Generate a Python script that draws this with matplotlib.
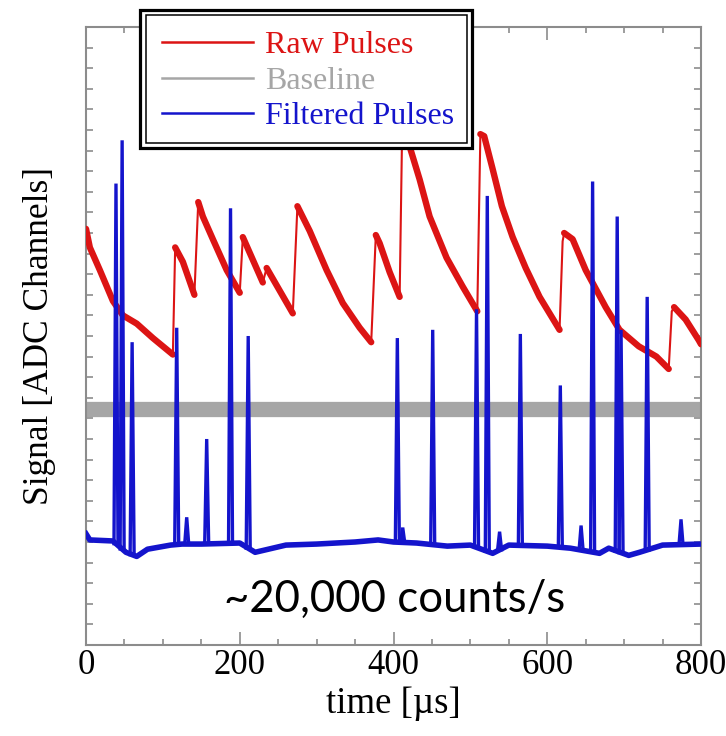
import numpy as np
import matplotlib
matplotlib.use("Agg")
import matplotlib.pyplot as plt
from matplotlib.lines import Line2D
from matplotlib.patches import Rectangle
from matplotlib.ticker import MultipleLocator, NullFormatter

# ---- data (time in microseconds, signal in arbitrary ADC units) ----
# raw preamplifier trace: vertices of the pile-up sawtooth
raw_t = [0, 5, 18, 35, 48, 66, 87, 113,
         116, 126, 141,
         146, 152, 165, 183, 200,
         204, 217, 230,
         235, 252, 269,
         275, 291, 313, 334, 356, 371,
         377, 382, 395, 408,
         411, 421, 434, 447, 469, 490, 509,
         513, 518, 529, 541, 555, 572, 590, 616,
         620, 622, 633, 650, 676, 694, 719, 742, 758,
         762, 765, 780, 797, 800]
raw_v = [20.2, 19.3, 18.2, 16.7, 16.0, 15.6, 14.9, 14.1,
         19.3, 18.6, 17.0,
         21.5, 20.8, 19.7, 18.2, 17.1,
         19.8, 18.7, 17.6,
         18.3, 17.2, 16.1,
         21.3, 20.1, 18.2, 16.6, 15.4, 14.7,
         19.9, 19.5, 18.1, 16.9,
         24.4, 24.2, 22.6, 20.8, 18.8, 17.4, 16.2,
         24.8, 24.7, 23.1, 21.3, 19.8, 18.3, 16.9, 15.3,
         19.6, 20.0, 19.7, 18.2, 16.4, 15.3, 14.5, 14.0, 13.4,
         16.2, 16.4, 15.8, 14.8, 14.6]

# noise baseline level
baseline_t = [0, 800]
baseline_v = [11.45, 11.45]

# filtered trace: slow baseline wander
filt_base_t = [0, 5, 35, 52, 66, 80, 110, 125, 150, 200, 220, 260, 300, 350,
               380, 400, 430, 470, 500, 529, 550, 600, 630, 668, 680, 706,
               720, 750, 800]
filt_base_v = [5.4, 5.1, 5.05, 4.5, 4.3, 4.65, 4.85, 4.9, 4.9, 4.95, 4.5, 4.85,
               4.9, 5.0, 5.1, 5.0, 4.95, 4.8, 4.85, 4.45, 4.85, 4.8, 4.7, 4.45,
               4.7, 4.35, 4.5, 4.85, 4.9]
# filtered trace: pulse positions and peak heights
pulse_t = [39, 47, 60, 118, 131, 157, 188, 211, 405, 412, 451, 508, 522, 538,
           565, 617, 644, 659, 691, 696, 730, 774]
pulse_h = [22.4, 24.5, 14.7, 15.4, 6.2, 10.0, 21.2, 15.0, 14.9, 5.7, 15.3, 16.3,
           21.8, 5.5, 15.1, 12.6, 5.8, 22.5, 20.8, 15.3, 16.9, 6.1]

x_ticks = [0, 200, 400, 600, 800]
legend_labels = ["Raw Pulses", "Baseline", "Filtered Pulses"]

RED = "#dc1414"
GRAY = "#a6a6a6"
BLUE = "#1414cc"
SPINE = "#8c8c8c"
SERIF = ["Liberation Serif", "DejaVu Serif"]

W, H = 726, 736
fig = plt.figure(figsize=(W / 100, H / 100), dpi=100)
ax = fig.add_axes([86 / W, 1 - 645 / H, (701 - 86) / W, (645 - 27) / H])

# baseline noise band
ax.plot(baseline_t, baseline_v, color=GRAY, lw=11, solid_capstyle="butt", zorder=1)

# raw trace: thin line everywhere, thick (noisy) on the decaying tails
rt = np.asarray(raw_t, float)
rv = np.asarray(raw_v, float)
ax.plot(rt, rv, color=RED, lw=1.5, zorder=3)
start = None
for i in range(len(rt) - 1):
    falling = rv[i + 1] < rv[i]
    if falling and start is None:
        start = i
    if (not falling or i == len(rt) - 2) and start is not None:
        end = i + 1 if falling else i
        ax.plot(rt[start:end + 1], rv[start:end + 1], color=RED, lw=4.6,
                solid_joinstyle="round", solid_capstyle="round", zorder=3)
        start = None

# filtered trace
ax.plot(filt_base_t, filt_base_v, color=BLUE, lw=4.0, zorder=4)
half_width = 2.6
for t, h in zip(pulse_t, pulse_h):
    b = np.interp(t, filt_base_t, filt_base_v)
    ax.plot([t - half_width, t, t + half_width], [b, h, b], color=BLUE, lw=2.4,
            solid_joinstyle="miter", zorder=4)

ax.set_xlim(0, 800)
ax.set_ylim(0, 30)
ax.set_xticks(x_ticks)
ax.set_xticklabels([str(v) for v in x_ticks])
ax.xaxis.set_minor_locator(MultipleLocator(50))
ax.yaxis.set_major_locator(MultipleLocator(1))
ax.yaxis.set_major_formatter(NullFormatter())
ax.tick_params(axis="both", which="both", direction="in", top=True, right=True,
               color=SPINE, width=1.2)
ax.tick_params(axis="x", which="major", length=9.5, pad=3, labelsize=25)
ax.tick_params(axis="x", which="minor", length=4)
ax.tick_params(axis="y", which="major", length=5)
for lab in ax.get_xticklabels():
    lab.set_fontfamily(SERIF)
for sp in ax.spines.values():
    sp.set_color(SPINE)
    sp.set_linewidth(1.5)

ax.set_xlabel("time [µs]", fontsize=26.5, family=SERIF, labelpad=3)
ax.set_ylabel("Signal [ADC Channels]", fontsize=25.5, family=SERIF, labelpad=18)

ax.text(402, (645 - 612) / 20.6, "~20,000 counts/s", fontsize=31.5, family="Lato",
        ha="center", va="baseline", zorder=6)

# legend with a double frame
def fig_rect(x0, y0, x1, y1, **kw):
    return Rectangle((x0 / W, 1 - y1 / H), (x1 - x0) / W, (y1 - y0) / H,
                     transform=fig.transFigure, clip_on=False, **kw)

ax.add_patch(fig_rect(139.5, 9.5, 471.5, 147.5, facecolor="white",
                      edgecolor="black", lw=2.3, zorder=7))
ax.add_patch(fig_rect(145.5, 15, 466.5, 143, facecolor="none",
                      edgecolor="black", lw=1.1, zorder=7.5))
handles = [Line2D([], [], color=c, lw=1.8) for c in (RED, GRAY, BLUE)]
leg = ax.legend(handles, legend_labels, loc="upper left",
                bbox_to_anchor=(162 / W, 1 - 31 / H),
                bbox_transform=fig.transFigure, frameon=False,
                prop={"family": SERIF, "size": 23}, borderpad=0,
                borderaxespad=0, handlelength=2.85, handletextpad=0.38,
                labelspacing=0.19)
leg.set_zorder(8)
for txt, c in zip(leg.get_texts(), (RED, GRAY, BLUE)):
    txt.set_color(c)

fig.savefig("out.png", dpi=100)
